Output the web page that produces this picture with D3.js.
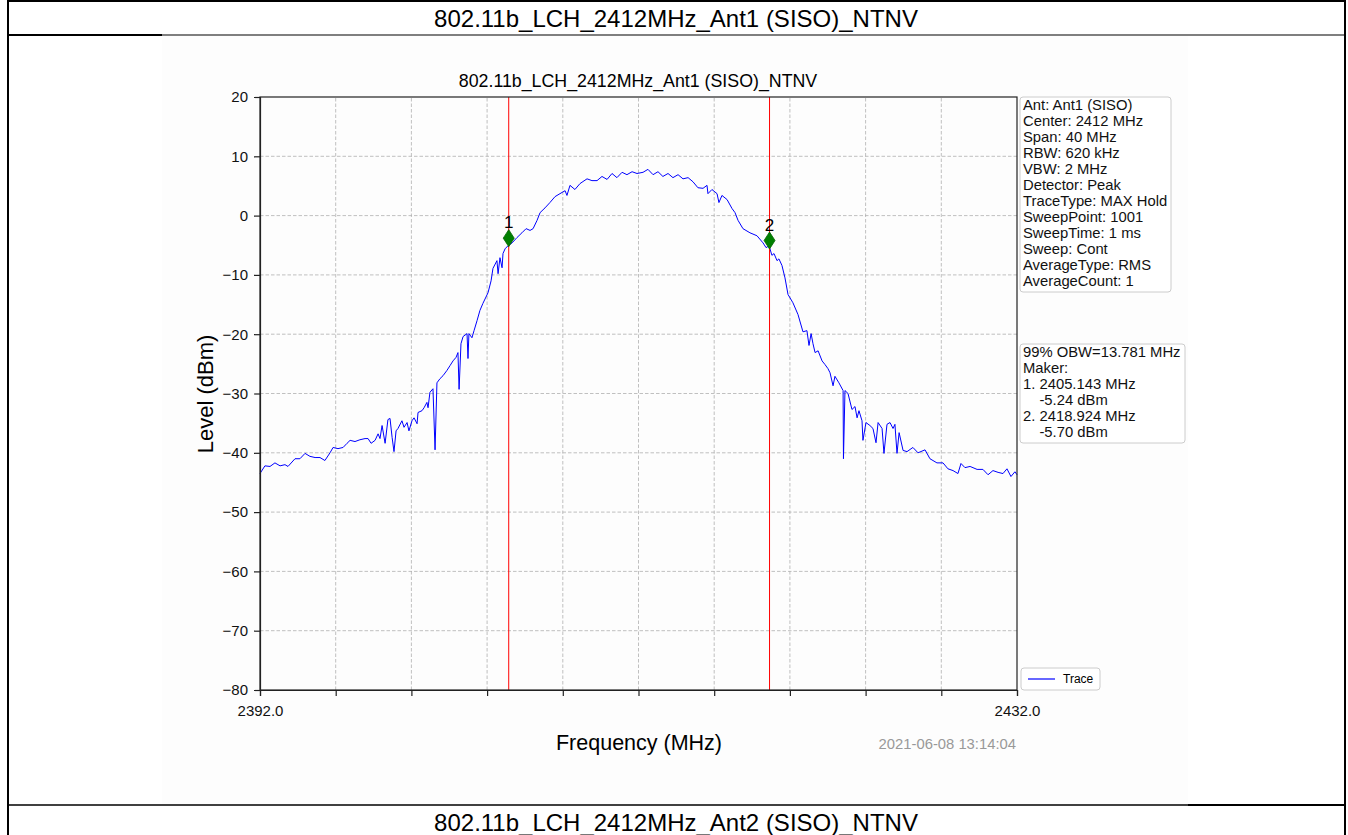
<!DOCTYPE html>
<meta charset="utf-8">
<style>
body { margin: 0; background: #fff; }
svg text { font-family: "Liberation Sans", Arial, sans-serif; fill: #000; }
.grid line { stroke: #b0b0b0; stroke-width: 0.8; stroke-dasharray: 3.5,2; }
.axis path, .axis line { stroke: #222; stroke-width: 1.2; }
.axis text { font-size: 15px; fill: #111; }
.box text { font-size: 14.8px; fill: #111; }
</style>
<svg width="1348" height="835"></svg>
<script src="https://d3js.org/d3.v7.min.js"></script>
<script>
var sectionTitles = ["802.11b_LCH_2412MHz_Ant1 (SISO)_NTNV", "802.11b_LCH_2412MHz_Ant2 (SISO)_NTNV"];
var chartTitle = "802.11b_LCH_2412MHz_Ant1 (SISO)_NTNV";
var stamp = "2021-06-08 13:14:04";

var xDomain = [2392, 2432];
var yDomain = [-80, 20];
var xTicks = [2392, 2396, 2400, 2404, 2408, 2412, 2416, 2420, 2424, 2428, 2432];
var yTicks = [-80, -70, -60, -50, -40, -30, -20, -10, 0, 10, 20];

var markerFreq = [2405.143, 2418.924];
var markerLevel = [-5.24, -5.70];
var markerDot = [-3.8, -4.2];
var markerName = ["1", "2"];

var infoLines = ["Ant: Ant1 (SISO)", "Center: 2412 MHz", "Span: 40 MHz", "RBW: 620 kHz", "VBW: 2 MHz",
  "Detector: Peak", "TraceType: MAX Hold", "SweepPoint: 1001", "SweepTime: 1 ms", "Sweep: Cont",
  "AverageType: RMS", "AverageCount: 1"];
var obwLines = ["99% OBW=13.781 MHz", "Maker:", "1. 2405.143 MHz", "    -5.24 dBm", "2. 2418.924 MHz", "    -5.70 dBm"];

// trace, MHz / dBm
var traceFreq = [
  2392.00, 2392.26, 2392.53, 2392.79, 2393.06, 2393.32, 2393.48, 2393.85, 2394.11, 2394.38,
  2394.64, 2394.91, 2395.17, 2395.43, 2395.70, 2395.86, 2396.12, 2396.39, 2396.60, 2396.76,
  2397.02, 2397.28, 2397.55, 2397.71, 2397.87, 2398.08, 2398.24, 2398.34, 2398.45, 2398.61,
  2398.76, 2398.87, 2398.98, 2399.08, 2399.19, 2399.29, 2399.50, 2399.61, 2399.77, 2399.87,
  2400.03, 2400.14, 2400.30, 2400.35, 2400.56, 2400.67, 2400.82, 2400.88, 2400.98, 2401.14,
  2401.25, 2401.35, 2401.51, 2401.67, 2401.88, 2402.04, 2402.20, 2402.36, 2402.46, 2402.52,
  2402.62, 2402.73, 2402.94, 2402.99, 2403.04, 2403.20, 2403.31, 2403.47, 2403.62, 2403.78,
  2404.05, 2404.21, 2404.31, 2404.52, 2404.58, 2404.68, 2404.79, 2404.84, 2404.95, 2405.10,
  2405.32, 2405.58, 2405.84, 2406.06, 2406.27, 2406.43, 2406.64, 2406.80, 2407.06, 2407.32,
  2407.59, 2407.85, 2408.12, 2408.22, 2408.38, 2408.64, 2408.91, 2409.28, 2409.54, 2409.81,
  2410.07, 2410.34, 2410.60, 2410.86, 2411.13, 2411.39, 2411.66, 2411.92, 2412.24, 2412.50,
  2412.77, 2413.03, 2413.29, 2413.56, 2413.82, 2414.09, 2414.35, 2414.62, 2414.88, 2415.14,
  2415.41, 2415.62, 2415.67, 2415.88, 2416.15, 2416.25, 2416.41, 2416.68, 2416.94, 2417.10,
  2417.26, 2417.52, 2417.89, 2418.26, 2418.58, 2418.74, 2418.90, 2419.05, 2419.16, 2419.32,
  2419.42, 2419.58, 2419.74, 2419.90, 2420.16, 2420.43, 2420.69, 2420.90, 2421.01, 2421.12,
  2421.22, 2421.33, 2421.49, 2421.70, 2421.85, 2422.01, 2422.12, 2422.28, 2422.38, 2422.59,
  2422.81, 2422.83, 2422.91, 2423.07, 2423.28, 2423.44, 2423.55, 2423.65, 2423.81, 2423.86,
  2424.02, 2424.23, 2424.39, 2424.55, 2424.66, 2424.87, 2424.97, 2425.13, 2425.29, 2425.45,
  2425.55, 2425.66, 2425.77, 2425.98, 2426.19, 2426.50, 2426.77, 2427.14, 2427.40, 2427.77,
  2428.09, 2428.35, 2428.62, 2428.88, 2429.04, 2429.25, 2429.52, 2429.89, 2430.20, 2430.47,
  2430.73, 2431.00, 2431.26, 2431.47, 2431.68, 2431.89, 2432.00];
var traceLevel = [
  -43.5, -42.2, -42.3, -41.7, -42.2, -42.0, -42.3, -41.0, -41.0, -40.1,
  -40.6, -40.8, -40.8, -41.3, -40.0, -39.1, -39.3, -39.1, -38.4, -37.9,
  -38.1, -37.8, -37.6, -37.6, -38.4, -37.9, -36.8, -37.6, -35.4, -38.4,
  -34.4, -34.2, -37.4, -39.8, -36.3, -35.9, -34.6, -35.7, -34.9, -36.3,
  -34.6, -34.1, -35.1, -33.2, -32.9, -32.4, -31.5, -32.4, -29.8, -29.2,
  -39.5, -28.2, -27.5, -27.0, -26.1, -25.3, -24.5, -23.9, -23.1, -29.3,
  -21.6, -20.4, -19.9, -24.1, -19.9, -20.6, -19.4, -17.7, -16.0, -14.8,
  -13.0, -11.0, -8.9, -7.6, -9.8, -7.1, -8.8, -6.4, -5.6, -5.1,
  -4.6, -3.7, -2.9, -2.2, -2.5, -2.2, -0.8, 0.5, 1.3, 2.2,
  3.2, 3.7, 4.2, 3.4, 5.1, 4.4, 5.4, 6.2, 5.9, 5.9,
  6.6, 6.1, 7.1, 6.4, 7.3, 6.9, 7.4, 7.1, 7.3, 7.8,
  6.9, 7.4, 6.6, 7.1, 6.4, 6.9, 6.2, 6.4, 5.7, 4.7,
  4.6, 5.1, 3.7, 4.4, 3.7, 2.2, 3.4, 2.7, 1.2, 0.5,
  -0.8, -2.2, -2.9, -3.4, -4.6, -5.4, -5.1, -6.7, -6.4, -7.6,
  -7.3, -8.4, -10.5, -13.3, -14.7, -16.7, -19.6, -19.4, -21.9, -19.9,
  -21.6, -23.1, -22.8, -24.5, -25.1, -25.8, -26.5, -28.7, -27.1, -28.2,
  -29.5, -41.0, -29.5, -30.0, -32.7, -32.2, -34.1, -32.9, -34.6, -37.9,
  -34.9, -35.4, -35.9, -38.3, -34.9, -35.9, -40.1, -35.2, -34.9, -35.9,
  -35.2, -40.1, -36.6, -39.6, -39.8, -39.1, -40.0, -39.5, -41.0, -41.7,
  -41.7, -42.7, -43.0, -43.5, -41.8, -42.5, -42.3, -42.8, -42.8, -43.7,
  -43.0, -43.3, -43.5, -42.7, -44.0, -43.2, -43.7];

var svg = d3.select("svg");

// document table frame
svg.append("rect").attr("x", 162).attr("y", 36).attr("width", 1026).attr("height", 768).attr("fill", "#fdfdfd");
var frame = svg.append("g").attr("stroke", "#000");
frame.append("line").attr("x1", 8).attr("x2", 1346).attr("y1", 1).attr("y2", 1).attr("stroke-width", 2);
frame.append("line").attr("x1", 8).attr("x2", 162).attr("y1", 35).attr("y2", 35).attr("stroke-width", 2);
frame.append("line").attr("x1", 162).attr("x2", 1346).attr("y1", 35).attr("y2", 35).attr("stroke-width", 1.2);
frame.append("line").attr("x1", 8).attr("x2", 1188).attr("y1", 805).attr("y2", 805).attr("stroke-width", 1.5);
frame.append("line").attr("x1", 1188).attr("x2", 1346).attr("y1", 805).attr("y2", 805).attr("stroke-width", 2);
frame.append("line").attr("x1", 8).attr("x2", 8).attr("y1", 0).attr("y2", 835).attr("stroke-width", 2);
frame.append("line").attr("x1", 1345).attr("x2", 1345).attr("y1", 0).attr("y2", 835).attr("stroke-width", 2);

svg.selectAll(".section").data(sectionTitles).enter().append("text")
    .attr("x", 676).attr("y", function(d, i) { return i ? 831 : 27; })
    .attr("text-anchor", "middle").style("font-size", "24px")
    .text(function(d) { return d; });

var x = d3.scaleLinear().domain(xDomain).range([260, 1017]);
var y = d3.scaleLinear().domain(yDomain).range([690, 97]);

var grid = svg.append("g").attr("class", "grid");
grid.selectAll(".gx").data(xTicks.slice(1, -1)).enter().append("line")
    .attr("x1", x).attr("x2", x).attr("y1", y(yDomain[0])).attr("y2", y(yDomain[1]));
grid.selectAll(".gy").data(yTicks.slice(1, -1)).enter().append("line")
    .attr("y1", y).attr("y2", y).attr("x1", x(xDomain[0])).attr("x2", x(xDomain[1]));

// trace
var pts = traceFreq.map(function(f, i) { return [f, traceLevel[i]]; });
svg.append("path").datum(pts)
    .attr("fill", "none").attr("stroke", "#0000ff").attr("stroke-width", 1)
    .attr("d", d3.line().x(function(d) { return x(d[0]); }).y(function(d) { return y(d[1]); }));

// marker lines
svg.selectAll(".mline").data(markerFreq).enter().append("line")
    .attr("x1", x).attr("x2", x).attr("y1", y(yDomain[0])).attr("y2", y(yDomain[1]))
    .attr("stroke", "#ff0000").attr("stroke-width", 1);

// axes
svg.append("g").attr("class", "axis")
    .attr("transform", "translate(0," + y(yDomain[0]) + ")")
    .call(d3.axisBottom(x).tickValues(xTicks).tickSizeOuter(0).tickSize(6).tickPadding(9)
      .tickFormat(function(d, i) { return (i === 0 || i === xTicks.length - 1) ? d3.format(".1f")(d) : ""; }));
svg.append("g").attr("class", "axis")
    .attr("transform", "translate(" + x(xDomain[0]) + ",0)")
    .call(d3.axisLeft(y).tickValues(yTicks).tickSizeOuter(0).tickSize(6).tickPadding(6));
svg.append("rect")
    .attr("x", x(xDomain[0])).attr("y", y(yDomain[1]))
    .attr("width", x(xDomain[1]) - x(xDomain[0])).attr("height", y(yDomain[0]) - y(yDomain[1]))
    .attr("fill", "none").attr("stroke", "#222").attr("stroke-width", 1.2);

// marker diamonds
var mk = svg.selectAll(".mk").data(markerFreq).enter().append("g")
    .attr("transform", function(d, i) { return "translate(" + x(d) + "," + y(markerDot[i]) + ")"; });
mk.append("path").attr("d", "M0,-8.5L5.5,0L0,8.5L-5.5,0Z")
    .attr("fill", "#008000").attr("stroke", "#006400").attr("stroke-width", 0.8);
mk.append("text").attr("y", -10).attr("text-anchor", "middle").style("font-size", "17px")
    .text(function(d, i) { return markerName[i]; });

// titles
svg.append("text").attr("x", 638).attr("y", 87).attr("text-anchor", "middle")
    .style("font-size", "17.8px").text(chartTitle);
svg.append("text").attr("x", 639).attr("y", 750).attr("text-anchor", "middle")
    .style("font-size", "21.5px").text("Frequency (MHz)");
svg.append("text").attr("transform", "translate(213,394) rotate(-90)").attr("text-anchor", "middle")
    .style("font-size", "22px").text("Level (dBm)");
svg.append("text").attr("x", 1016).attr("y", 749).attr("text-anchor", "end")
    .style("font-size", "14.8px").style("fill", "#999").text(stamp);

// text boxes
function textBox(lines, bx, by, bw) {
  var g = svg.append("g").attr("class", "box");
  g.append("rect").attr("x", bx).attr("y", by).attr("width", bw).attr("height", lines.length * 16 + 3)
      .attr("rx", 3).attr("fill", "#fff").attr("stroke", "#ccc").attr("stroke-width", 1);
  g.selectAll("text").data(lines).enter().append("text")
      .attr("x", bx + 3).attr("y", function(d, i) { return by + 12.5 + i * 16; })
      .attr("xml:space", "preserve").style("white-space", "pre")
      .text(function(d) { return d; });
}
textBox(infoLines, 1020, 97, 151);
textBox(obwLines, 1020, 344, 165);

// legend
var lg = svg.append("g");
lg.append("rect").attr("x", 1021).attr("y", 668).attr("width", 79).attr("height", 22).attr("rx", 3)
    .attr("fill", "#fff").attr("stroke", "#ccc");
lg.append("line").attr("x1", 1028).attr("x2", 1055).attr("y1", 679).attr("y2", 679)
    .attr("stroke", "#0000ff").attr("stroke-width", 1.2);
lg.append("text").attr("x", 1063).attr("y", 683).style("font-size", "12px").text("Trace");
</script>
